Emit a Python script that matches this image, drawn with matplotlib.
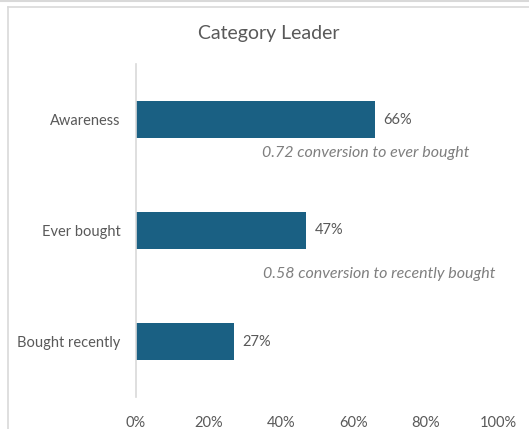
import matplotlib
matplotlib.use("Agg")
import matplotlib.pyplot as plt
from matplotlib.lines import Line2D

categories = ["Awareness", "Ever bought", "Bought recently"]
values = [66, 47, 27]
value_labels = ["66%", "47%", "27%"]
conversion_notes = ["0.72 conversion to ever bought", "0.58 conversion to recently bought"]
xticks = [0, 20, 40, 60, 80, 100]
xtick_labels = ["0%", "20%", "40%", "60%", "80%", "100%"]
title = "Category Leader"

plt.rcParams['font.family'] = ['Lato', 'DejaVu Sans']
txt = "#595959"
bar_color = "#1a6083"

W, H = 529, 429
fig = plt.figure(figsize=(W/100, H/100), dpi=100)
fig.patch.set_facecolor("white")

ax = fig.add_axes([136/W, 1-397/H, (498-136)/W, (397-64)/H])
y = list(range(len(categories)))
ax.barh(y, values, height=0.34, color=bar_color)
ax.set_xlim(0, 100)
ax.set_ylim(len(categories)-0.5, -0.5)
ax.set_yticks(y)
ax.set_yticklabels(categories, fontsize=10.5, color=txt)
ax.set_xticks(xticks)
ax.set_xticklabels(xtick_labels, fontsize=10.5, color=txt)
ax.tick_params(axis='both', length=0)
ax.tick_params(axis='y', pad=11)
ax.tick_params(axis='x', pad=14)
for s in ["top", "right", "bottom"]:
    ax.spines[s].set_visible(False)
ax.spines["left"].set_color("#d9d9d9")
ax.spines["left"].set_linewidth(1.2)

for i, (v, lab) in enumerate(zip(values, value_labels)):
    ax.text(v + 2.3, i, lab, va="center", ha="left", fontsize=10.5, color=txt)

ax.text(63.5, 0.30, conversion_notes[0], va="center", ha="center", fontsize=11.5,
        color="#7f7f7f", style="italic")
ax.text(67.2, 1.39, conversion_notes[1], va="center", ha="center", fontsize=11.5,
        color="#7f7f7f", style="italic")

fig.text(0.508, 1-33/H, title, ha="center", va="center", fontsize=14, color=txt)

fig.add_artist(Line2D([0, 1], [1-0.5/H, 1-0.5/H], color="#d9d9d9", lw=1.5, transform=fig.transFigure))
fig.add_artist(Line2D([7.5/W, 1], [1-6.5/H, 1-6.5/H], color="#d9d9d9", lw=1.2, transform=fig.transFigure))
fig.add_artist(Line2D([7.5/W, 7.5/W], [0, 1-6.5/H], color="#d9d9d9", lw=1.2, transform=fig.transFigure))

fig.savefig("out.png", dpi=100, facecolor="white")
